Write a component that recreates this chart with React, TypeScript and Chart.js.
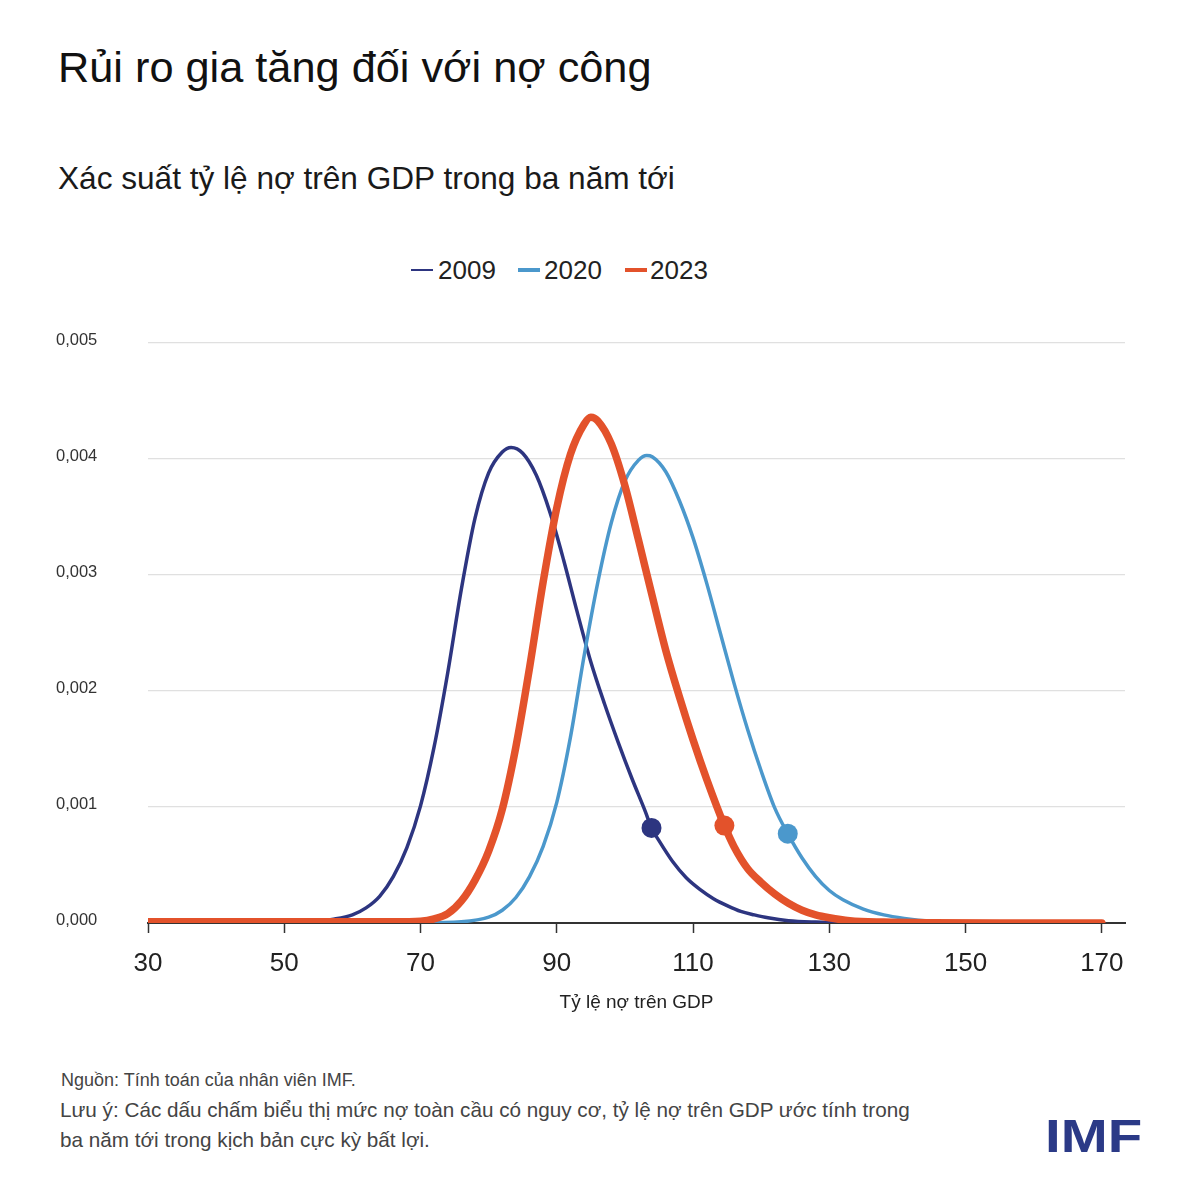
import React, { useEffect, useRef } from "react";
import { Chart, registerables } from "chart.js";

Chart.register(...registerables);

// ---------- data ----------
const X_TICKS = [30, 50, 70, 90, 110, 130, 150, 170];
const X_MIN = 30;
const X_MAX = 173.4;
const Y_TICKS = [0, 0.001, 0.002, 0.003, 0.004, 0.005];
const Y_TICK_LABELS = ["0,000", "0,001", "0,002", "0,003", "0,004", "0,005"];

const SERIES_NAMES = ["2009", "2020", "2023"];
const COLORS = ["#2d3580", "#4b98cc", "#e3522b"];

// density values
const X_2009 = [30, 50, 54, 57, 60, 62, 64, 66, 68, 70, 72, 74, 76, 78, 80, 82, 83.3, 85, 87, 89, 91, 93, 95, 97, 99, 101, 103, 103.9, 105, 107, 109, 111, 113, 115, 117, 119, 121, 124, 128, 135, 170];
const Y_2009 = [0, 0, 0.000005, 0.00003, 0.00007, 0.00013, 0.00023, 0.0004, 0.00065, 0.00101, 0.00152, 0.00216, 0.00288, 0.00349, 0.00388, 0.00406, 0.0041, 0.00405, 0.00386, 0.00354, 0.00313, 0.00268, 0.00225, 0.00189, 0.00156, 0.00125, 0.00096, 0.00082, 0.00071, 0.00053, 0.00039, 0.00029, 0.00021, 0.00015, 0.0001, 0.00007, 0.000045, 0.00002, 0.000008, 0, 0];

const X_2020 = [30, 70, 76, 80, 82, 84, 86, 88, 90, 92, 94, 96, 98, 100, 102, 103.2, 104, 106, 108, 110, 112, 114, 116, 118, 120, 122, 123.9, 126, 128, 130, 132, 135, 138, 141, 145, 150, 160, 170];
const Y_2020 = [0, 0, 0.00001, 0.00005, 0.00011, 0.00022, 0.0004, 0.00066, 0.00104, 0.0016, 0.0023, 0.00293, 0.00345, 0.00381, 0.00399, 0.00403, 0.00402, 0.00389, 0.00364, 0.00332, 0.00293, 0.0025, 0.00207, 0.00167, 0.00131, 0.00099, 0.00077, 0.00056, 0.0004, 0.00028, 0.0002, 0.00012, 0.00007, 0.00004, 0.000015, 0.000005, 0, 0];

const X_2023 = [30, 50, 60, 66, 70, 72, 74, 76, 78, 80, 82, 84, 86, 88, 90, 92, 94, 95, 96, 98, 100, 102, 104, 106, 108, 110, 112, 114.6, 116, 118, 120, 122, 124, 126, 128, 130, 133, 138, 145, 155, 170];
const Y_2023 = [0.00001, 0.00001, 0.00001, 0.00001, 0.000015, 0.000035, 0.00008, 0.00019, 0.00037, 0.00062, 0.00098, 0.00152, 0.0022, 0.00294, 0.00358, 0.00404, 0.0043, 0.00436, 0.00433, 0.00413, 0.00377, 0.0033, 0.00282, 0.00235, 0.00195, 0.00158, 0.00124, 0.00084, 0.00066, 0.00047, 0.00035, 0.00025, 0.00017, 0.00011, 0.00007, 0.000045, 0.00002, 0.000008, 0.000002, 0, 0];

// risk dots: 2009, 2020, 2023
const DOT_X = [103.9, 123.9, 114.6];
const DOT_Y = [0.00082, 0.00077, 0.00084];

const LINE_WIDTHS = [3.5, 3.5, 7.5];

const FONT = "'Liberation Sans', Arial, Helvetica, sans-serif";

function pts(xs: number[], ys: number[]) {
  return xs.map((x, i) => ({ x, y: ys[i] }));
}

export default function App() {
  const canvasRef = useRef<HTMLCanvasElement | null>(null);

  useEffect(() => {
    if (!canvasRef.current) return;
    const seriesX = [X_2009, X_2020, X_2023];
    const seriesY = [Y_2009, Y_2020, Y_2023];
    const lineOrder = [3, 2, 1];

    const lineSets: any[] = SERIES_NAMES.map((name, i) => ({
      type: "line",
      label: name,
      data: pts(seriesX[i], seriesY[i]),
      borderColor: COLORS[i],
      backgroundColor: COLORS[i],
      borderWidth: LINE_WIDTHS[i],
      pointRadius: 0,
      pointHoverRadius: 0,
      cubicInterpolationMode: "monotone",
      fill: false,
      order: lineOrder[i],
      borderCapStyle: "round",
      borderJoinStyle: "round",
    }));

    const dotSets: any[] = SERIES_NAMES.map((name, i) => ({
      type: "scatter",
      label: name + " dot",
      data: [{ x: DOT_X[i], y: DOT_Y[i] }],
      backgroundColor: COLORS[i],
      borderColor: COLORS[i],
      borderWidth: 0,
      pointRadius: 10,
      pointHoverRadius: 10,
      order: 0,
    }));

    const chart = new Chart(canvasRef.current, {
      type: "line",
      data: { datasets: [...dotSets, ...lineSets] },
      options: {
        animation: false,
        responsive: false,
        maintainAspectRatio: false,
        events: [],
        layout: { padding: { left: 56, right: 75, top: 43, bottom: 0 } },
        plugins: {
          legend: { display: false },
          tooltip: { enabled: false },
          title: { display: false },
        },
        scales: {
          x: {
            type: "linear",
            min: X_MIN,
            max: X_MAX,
            afterBuildTicks: (scale: any) => {
              scale.ticks = X_TICKS.map((v) => ({ value: v }));
            },
            ticks: {
              color: "#222",
              font: { family: FONT, size: 26 },
              padding: 15,
              maxRotation: 0,
              autoSkip: false,
              callback: (v: any) => String(v),
            },
            grid: {
              drawOnChartArea: false,
              drawTicks: true,
              tickLength: 10,
              tickColor: "#333",
              tickWidth: 1.5,
            },
            border: { display: true, color: "#333", width: 2 },
            title: {
              display: true,
              text: "Tỷ lệ nợ trên GDP",
              color: "#222",
              font: { family: FONT, size: 19 },
              padding: { top: -3, bottom: 4 },
            },
          },
          y: {
            type: "linear",
            min: 0,
            max: 0.005,
            afterBuildTicks: (scale: any) => {
              scale.ticks = Y_TICKS.map((v) => ({ value: v }));
            },
            afterFit: (scale: any) => {
              scale.width = 92;
            },
            ticks: {
              color: "#333",
              font: { family: FONT, size: 16.5 },
              crossAlign: "far",
              labelOffset: -3,
              callback: (v: any) => {
                const idx = Y_TICKS.findIndex((t) => Math.abs(t - v) < 1e-9);
                return idx >= 0 ? Y_TICK_LABELS[idx] : "";
              },
            },
            grid: {
              color: "#e0e0e0",
              lineWidth: 1.2,
              drawTicks: false,
              tickLength: 0,
            },
            border: { display: false },
          },
        },
      } as any,
    });
    return () => chart.destroy();
  }, []);

  const legendItems = [
    { left: 411, textLeft: 438, h: 2.5 },
    { left: 518, textLeft: 544, h: 3.5 },
    { left: 625, textLeft: 650, h: 4.5 },
  ];

  return (
    <div
      style={{
        position: "absolute",
        left: 0,
        top: 0,
        width: 1200,
        height: 1200,
        background: "#fff",
        fontFamily: FONT,
        overflow: "hidden",
      }}
    >
      <div style={{ position: "absolute", left: 58, top: 46, fontSize: 43.3, lineHeight: 1, color: "#111", whiteSpace: "nowrap" }}>
        Rủi ro gia tăng đối với nợ công
      </div>
      <div style={{ position: "absolute", left: 58, top: 163, fontSize: 31.6, lineHeight: 1, color: "#1a1a1a", whiteSpace: "nowrap" }}>
        Xác suất tỷ lệ nợ trên GDP trong ba năm tới
      </div>

      {SERIES_NAMES.map((name, i) => (
        <React.Fragment key={name}>
          <div
            style={{
              position: "absolute",
              left: legendItems[i].left,
              top: 270 - legendItems[i].h / 2,
              width: 22,
              height: legendItems[i].h,
              background: COLORS[i],
            }}
          />
          <div
            style={{
              position: "absolute",
              left: legendItems[i].textLeft,
              top: 257,
              fontSize: 26,
              lineHeight: 1,
              color: "#222",
              whiteSpace: "nowrap",
            }}
          >
            {name}
          </div>
        </React.Fragment>
      ))}

      <div style={{ position: "absolute", left: 0, top: 300, width: 1200, height: 718 }}>
        <canvas ref={canvasRef} width={1200} height={718} style={{ width: 1200, height: 718, display: "block" }} />
      </div>

      <div style={{ position: "absolute", left: 61, top: 1071, fontSize: 18, lineHeight: 1, color: "#444", whiteSpace: "nowrap" }}>
        Nguồn: Tính toán của nhân viên IMF.
      </div>
      <div style={{ position: "absolute", left: 60, top: 1100, fontSize: 20.7, lineHeight: 1, color: "#444", whiteSpace: "nowrap" }}>
        Lưu ý: Các dấu chấm biểu thị mức nợ toàn cầu có nguy cơ, tỷ lệ nợ trên GDP ước tính trong
      </div>
      <div style={{ position: "absolute", left: 60, top: 1130, fontSize: 20.7, lineHeight: 1, color: "#444", whiteSpace: "nowrap" }}>
        ba năm tới trong kịch bản cực kỳ bất lợi.
      </div>
      <div
        style={{
          position: "absolute",
          left: 1045,
          top: 1112,
          fontSize: 47,
          lineHeight: 1,
          fontWeight: 700,
          color: "#2b3a87",
          transform: "scaleX(1.2)",
          transformOrigin: "left top",
          whiteSpace: "nowrap",
        }}
      >
        IMF
      </div>
    </div>
  );
}
